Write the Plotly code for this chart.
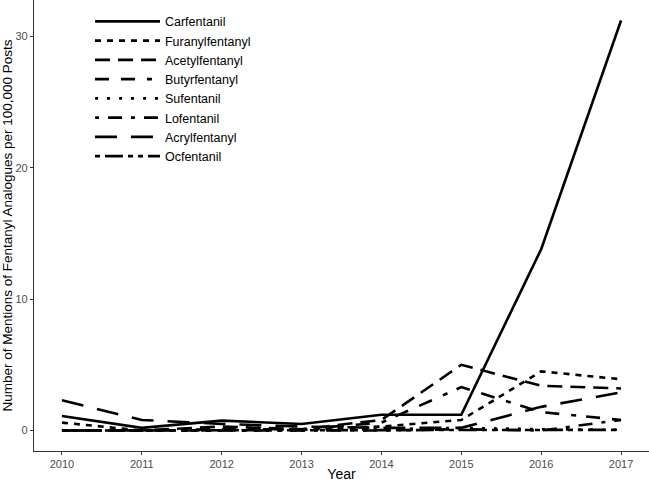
import plotly.graph_objects as go

years = [2010, 2011, 2012, 2013, 2014, 2015, 2016, 2017]

carfentanil = [1.1, 0.2, 0.75, 0.5, 1.2, 1.2, 13.8, 31.2]
furanylfentanyl = [0.6, 0.0, 0.0, 0.05, 0.3, 0.8, 4.5, 3.9]
acetylfentanyl = [0.0, 0.0, 0.3, 0.1, 0.8, 5.0, 3.4, 3.2]
butyrfentanyl = [0.0, 0.0, 0.1, 0.1, 0.6, 3.3, 1.4, 0.8]
sufentanil = [0.0, 0.0, 0.0, 0.0, 0.1, 0.2, 0.1, 0.05]
lofentanil = [0.0, 0.0, 0.0, 0.0, 0.0, 0.1, 0.0, 0.8]
acrylfentanyl = [2.3, 0.8, 0.5, 0.3, 0.2, 0.2, 1.8, 2.9]
ocfentanil = [0.0, 0.0, 0.0, 0.0, 0.0, 0.0, 0.0, 0.05]

series = [
    ("Carfentanil", carfentanil, "solid"),
    ("Furanylfentanyl", furanylfentanyl, "6px,6px"),
    ("Acetylfentanyl", acetylfentanyl, "15px,8px"),
    ("Butyrfentanyl", butyrfentanyl, "14px,12px,14px,12px,5px,10px"),
    ("Sufentanil", sufentanil, "3px,9px"),
    ("Lofentanil", lofentanil, "4px,9px,14px,9px"),
    ("Acrylfentanyl", acrylfentanyl, "22px,14px"),
    ("Ocfentanil", ocfentanil, "5px,5px,18px,5px,5px,5px"),
]

fig = go.Figure()
for name, vals, dash in series:
    fig.add_trace(go.Scatter(
        x=years, y=vals, mode="lines", name=name,
        line=dict(color="black", width=2.6, dash=dash),
    ))

fig.update_layout(
    width=649, height=482,
    margin=dict(l=34, r=0, t=0, b=31),
    paper_bgcolor="white", plot_bgcolor="white",
    font=dict(family="Liberation Sans, Arial, sans-serif", color="black"),
    showlegend=True,
    legend=dict(
        x=0.091, y=0.985, xanchor="left", yanchor="top",
        bgcolor="rgba(0,0,0,0)", font=dict(size=12.5, color="black"),
        itemwidth=65, tracegroupgap=0,
    ),
    xaxis=dict(
        range=[2009.65, 2017.35], tickmode="array", tickvals=years,
        ticktext=[str(y) for y in years],
        showgrid=False, zeroline=False, showline=True, linecolor="#333333", linewidth=1.2,
        ticks="outside", ticklen=3, tickcolor="#333333",
        tickfont=dict(size=11, color="#4D4D4D"),
        title=dict(text="Year", font=dict(size=14), standoff=5),
        automargin=False,
    ),
    yaxis=dict(
        range=[-1.56, 32.76], tickvals=[0, 10, 20, 30],
        showgrid=False, zeroline=False, showline=True, linecolor="#333333", linewidth=1.2,
        ticks="outside", ticklen=3, tickcolor="#333333",
        tickfont=dict(size=11, color="#4D4D4D"),
        title=dict(text="Number of Mentions of Fentanyl Analogues per 100,000 Posts",
                   font=dict(size=13.5), standoff=4),
        automargin=False,
    ),
)

fig.write_html("out.html", config={"displayModeBar": False},
               post_script="document.body.style.margin='0';")
